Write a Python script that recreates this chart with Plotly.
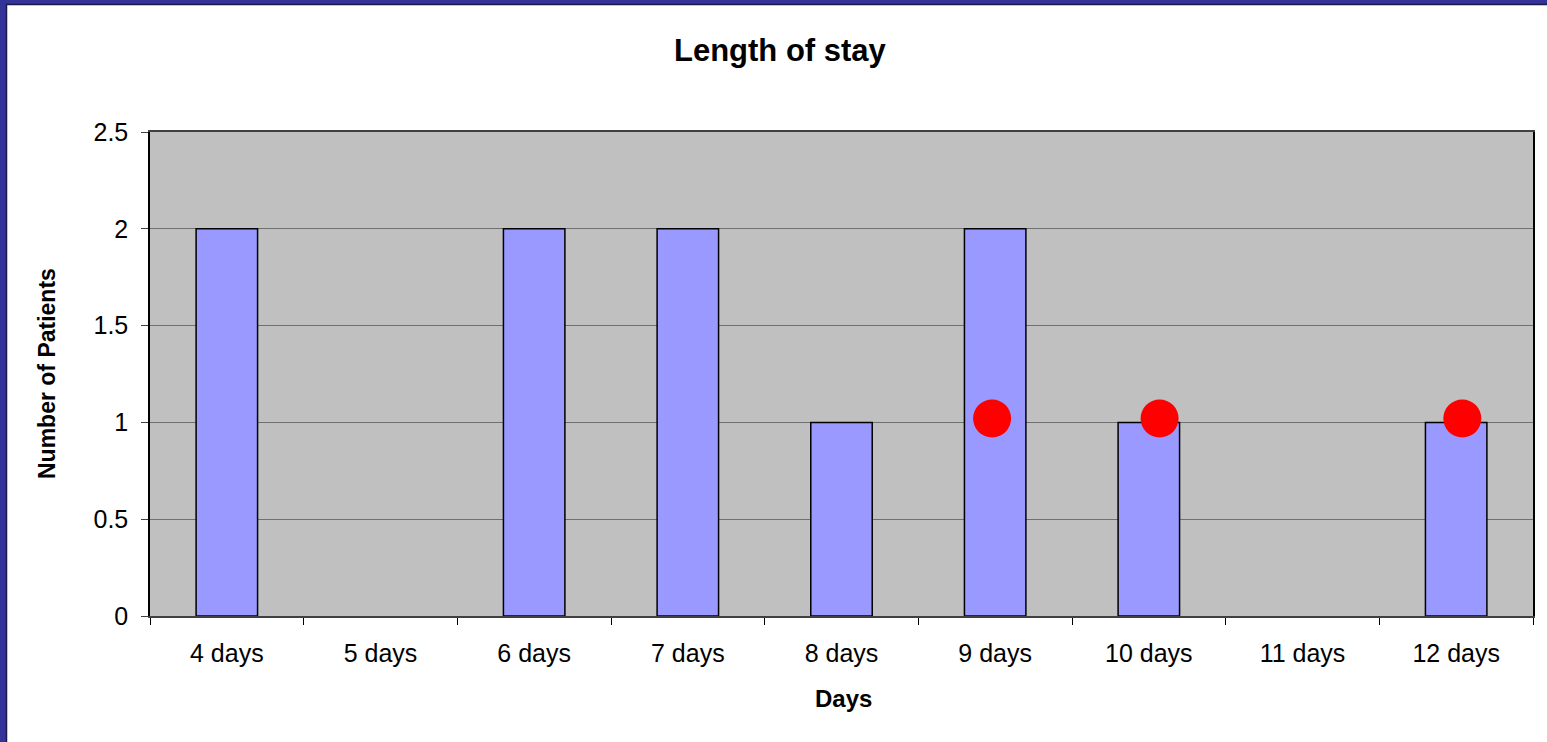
import plotly.graph_objects as go

categories = ["4 days", "5 days", "6 days", "7 days", "8 days", "9 days", "10 days", "11 days", "12 days"]
patients = [2, 0, 2, 2, 1, 2, 1, 0, 1]
dot_x = [4.98, 6.07, 8.04]
dot_y = [1.02, 1.02, 1.02]

W, H = 1547, 742
L, R, T, B = 150, 14, 132, 126
pw, ph = W - L - R, H - T - B

def px_x(px):
    return (px - L) / pw

def px_y(py):
    return (H - B - py) / ph

xs = list(range(len(categories)))
bar_y = [v if v else None for v in patients]

fig = go.Figure()
fig.add_trace(go.Bar(
    x=xs, y=bar_y, width=0.4,
    marker=dict(color="#9999FF", line=dict(color="black", width=1.5)),
    showlegend=False, hoverinfo="skip"
))
fig.add_trace(go.Scatter(
    x=dot_x, y=dot_y, mode="markers",
    marker=dict(color="#FF0000", size=38, line=dict(width=0)),
    showlegend=False, hoverinfo="skip"
))

font_family = "Liberation Sans, Arial, sans-serif"
fig.update_layout(
    width=W, height=H,
    margin=dict(l=L, r=R, t=T, b=B),
    paper_bgcolor="white",
    plot_bgcolor="#C0C0C0",
    font=dict(family=font_family, color="black", size=25),
    xaxis=dict(
        range=[-0.5, len(categories) - 0.5],
        tickmode="array", tickvals=xs, ticktext=categories,
        ticks="", showgrid=False, zeroline=False,
        showline=True, linecolor="#404040", linewidth=1.5, mirror=True,
        minor=dict(tickmode="linear", tick0=-0.5, dtick=1, ticks="outside",
                   ticklen=7, tickcolor="black", tickwidth=1, showgrid=False),
        tickfont=dict(size=25),
        ticklabelstandoff=14,
        fixedrange=True,
    ),
    yaxis=dict(
        range=[0, 2.5], dtick=0.5, tick0=0,
        ticks="outside", ticklen=7, tickcolor="#404040",
        showgrid=True, gridcolor="#707070", gridwidth=1,
        zeroline=False,
        showline=True, linecolor="black", linewidth=1.5, mirror=True,
        tickfont=dict(size=25),
        ticklabelstandoff=8,
        fixedrange=True,
    ),
    annotations=[
        dict(text="<b>Length of stay</b>", xref="paper", yref="paper",
             x=px_x(780), y=px_y(50), xanchor="center", yanchor="middle",
             showarrow=False, font=dict(size=31)),
        dict(text="<b>Days</b>", xref="paper", yref="paper",
             x=px_x(843), y=px_y(698), xanchor="center", yanchor="middle",
             showarrow=False, font=dict(size=24)),
        dict(text="<b>Number of Patients</b>", xref="paper", yref="paper",
             x=px_x(47), y=px_y(374), xanchor="center", yanchor="middle",
             textangle=-90, showarrow=False, font=dict(size=23)),
    ],
    shapes=[
        dict(type="rect", xref="paper", yref="paper",
             x0=px_x(0), x1=px_x(W), y0=px_y(4), y1=px_y(0),
             fillcolor="#333399", line=dict(width=0), layer="above"),
        dict(type="rect", xref="paper", yref="paper",
             x0=px_x(0), x1=px_x(6), y0=px_y(H), y1=px_y(0),
             fillcolor="#333399", line=dict(width=0), layer="above"),
        dict(type="line", xref="paper", yref="paper",
             x0=px_x(6), x1=px_x(W), y0=px_y(4.5), y1=px_y(4.5),
             line=dict(color="#1a1a4d", width=1.5), layer="above"),
        dict(type="line", xref="paper", yref="paper",
             x0=px_x(6.5), x1=px_x(6.5), y0=px_y(H), y1=px_y(4),
             line=dict(color="#1a1a4d", width=1.5), layer="above"),
    ],
)

fig.write_html("out.html", config={"displayModeBar": False},
               post_script="document.body.style.margin='0';")
